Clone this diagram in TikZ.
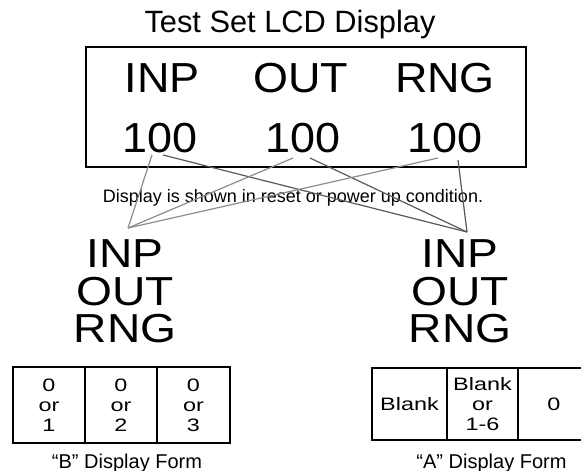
\documentclass[tikz,border=0pt]{standalone}
\usepackage{fontspec}
\setmainfont{Liberation Sans}
\usetikzlibrary{calc}

\newcommand{\wide}[1]{\scalebox{1.3}[1]{#1}}

\tikzset{
  big/.style={font=\fontsize{42}{42}\selectfont, inner sep=0pt, anchor=base,
    transform shape, xscale=1.07},
  stack/.style={font=\fontsize{40.5}{37.5}\selectfont, inner sep=0pt, align=center,
    transform shape, xscale=1.14},
  cell/.style={draw, line width=2.5pt, inner sep=0pt, align=center,
    font=\fontsize{18}{20}\selectfont},
  form/.style={font=\fontsize{20}{24}\selectfont, inner sep=0pt, anchor=base},
  lite/.style={draw=black!45, line width=1.2pt},
  dark/.style={draw=black!65, line width=1.2pt},
  frame/.style={line width=2.5pt}
}

\begin{document}
\begin{tikzpicture}[x=1pt,y=-1pt]
\useasboundingbox (0,0) rectangle (581,471);

\node[font=\fontsize{30.8}{36}\selectfont, inner sep=0pt, anchor=base] (title) at (290,32) {Test Set LCD Display};
\draw[frame] (86,47) rectangle (526,167);
\node[big] (hinp) at (162,92) {INP};
\node[big] (hout) at (301,92) {OUT};
\node[big] (hrng) at (445,92) {RNG};
\node[big] (ninp) at (160,152) {100};
\node[big] (nout) at (303,152) {100};
\node[big] (nrng) at (445,152) {100};
\node[font=\fontsize{18}{20}\selectfont, inner sep=0pt, anchor=base] (note) at (293,202) {Display is shown in reset or power up condition.};

\coordinate (lb) at (128,228);
\coordinate (rb) at (467,232);
\draw[lite] ($(ninp.base)+(-8,3)$) -- (lb);
\draw[dark] ($(ninp.base)+(3,3)$) -- (rb);
\draw[lite] ($(nout.base)+(-10,6)$) -- (lb);
\draw[dark] ($(nout.base)+(7,6)$) -- (rb);
\draw[lite] ($(nrng.base)+(-7,6)$) -- (lb);
\draw[dark] ($(nrng.base)+(13,8)$) -- (rb);

\node[stack] (bstack) at (125,291.5) {INP\\OUT\\RNG};
\node[stack] (astack) at (460,291.5) {INP\\OUT\\RNG};

\node[cell, minimum width=72pt, minimum height=76pt] (b1) at (49,405) {\wide{0}\\\wide{or}\\\wide{1}};
\node[cell, minimum width=72pt, minimum height=76pt] (b2) at (121,405) {\wide{0}\\\wide{or}\\\wide{2}};
\node[cell, minimum width=73pt, minimum height=76pt] (b3) at (193.5,405) {\wide{0}\\\wide{or}\\\wide{3}};
\node[form] (bform) at (127,468) {“B” Display Form};

\node[cell, minimum width=75pt, minimum height=72pt] (a1) at (409.5,404) {\wide{Blank}};
\node[cell, minimum width=71pt, minimum height=72pt] (a2) at (482.5,404) {\wide{Blank}\\\wide{or}\\\wide{1-6}};
\node[cell, minimum width=72pt, minimum height=72pt] (a3) at (554,404) {\wide{0}};
\node[form] (aform) at (491.5,468) {“A” Display Form};
\end{tikzpicture}
\end{document}
